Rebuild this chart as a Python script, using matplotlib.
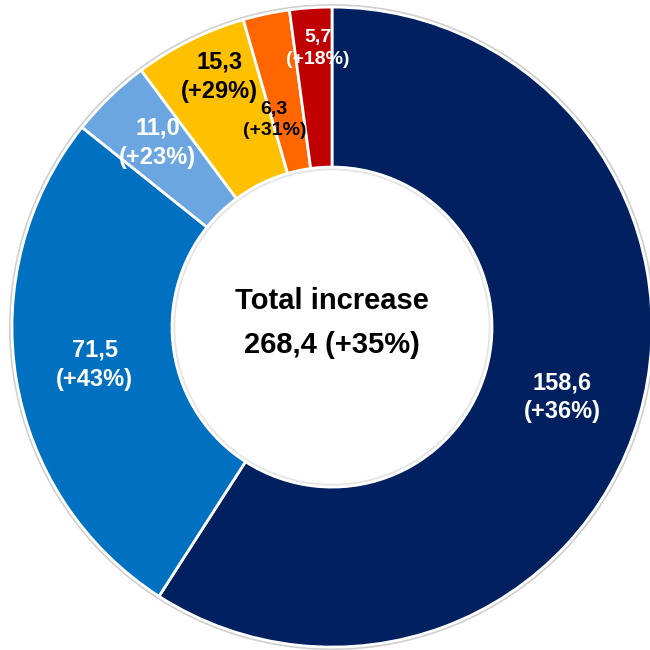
import numpy as np
import matplotlib.pyplot as plt
from matplotlib.patches import Circle

plt.rcParams['font.family'] = ['Liberation Sans Narrow', 'Liberation Sans', 'DejaVu Sans']

# slices, clockwise from 12 o'clock
values = [158.6, 71.5, 11.0, 15.3, 6.3, 5.7]
growth = ["+36%", "+43%", "+23%", "+29%", "+31%", "+18%"]
colors = ["#002060", "#0070C0", "#6CA6E0", "#FFC000", "#FF6600", "#C00000"]
text_colors = ["white", "white", "white", "black", "black", "white"]
label_r = [0.75, 0.75, 0.80, 0.865, 0.68, 0.88]
label_shift = [0, -1, -1, -2.4, 3.5, -1]  # degrees, nudges off the mid angle
label_size = [17, 17, 17, 17, 14, 14]
total = 268.4
total_growth = "+35%"


def fmt(v):
    return f"{v:.1f}".replace(".", ",")


fig = plt.figure(figsize=(6.5, 6.5), dpi=100)
ax = fig.add_axes([0, 0, 1, 1])

# soft grey shadow at the ring edges
ax.add_patch(Circle((0, 0), 1.004, fill=False, edgecolor="#CFCFCF", lw=2.5, zorder=0))
ax.add_patch(Circle((0, 0), 0.494, fill=False, edgecolor="#E6E6E6", lw=2, zorder=0))

wedges, _ = ax.pie(values, colors=colors, startangle=90, counterclock=False,
                   radius=1.0,
                   wedgeprops=dict(width=0.5, edgecolor="white", linewidth=2, zorder=1))

# labels at each wedge's mid angle
for w, v, g, tc, r, sh, fs in zip(wedges, values, growth, text_colors,
                                   label_r, label_shift, label_size):
    ang = np.deg2rad((w.theta1 + w.theta2) / 2 + sh)
    ax.text(r * np.cos(ang), r * np.sin(ang) - 0.008, f"{fmt(v)}\n({g})",
            ha="center", va="center", color=tc, fontsize=fs,
            fontweight="bold", linespacing=1.35, zorder=5)

ax.text(0, 0.012, f"Total increase\n{fmt(total)} ({total_growth})",
        ha="center", va="center", fontsize=21, fontweight="bold",
        color="black", linespacing=1.75, zorder=5)

ax.set_xlim(-1.0375, 0.99375)
ax.set_ylim(-1.009, 1.022)
ax.set_aspect("equal")
ax.axis("off")

fig.savefig("out.png", dpi=100)
